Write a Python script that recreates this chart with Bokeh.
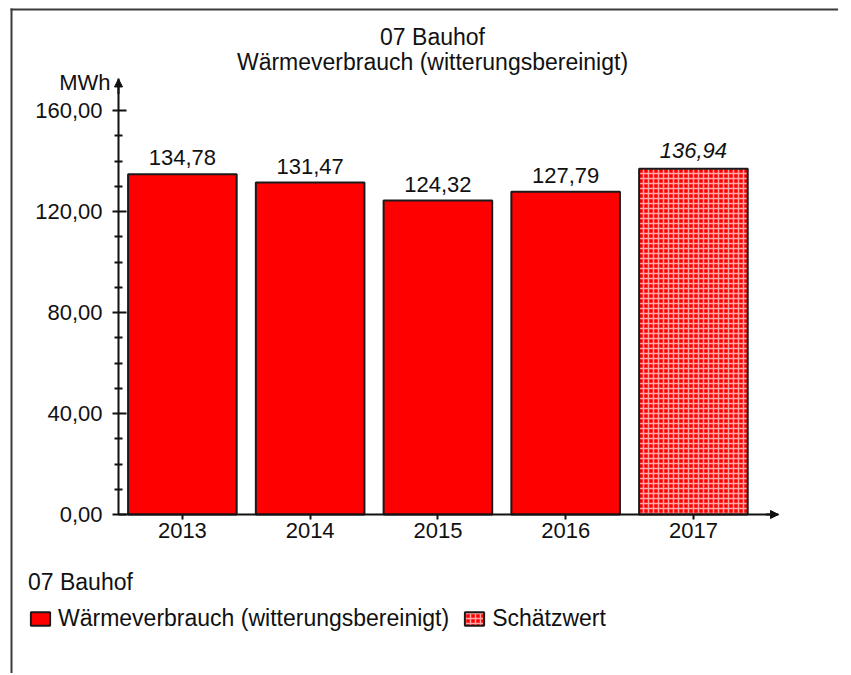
from bokeh.plotting import figure
from bokeh.models import (Range1d, FixedTicker, ColumnDataSource, Label, Arrow,
                          NormalHead, Legend, LegendItem)
from bokeh.transform import dodge
from bokeh.embed import file_html
from bokeh.resources import INLINE
from bokeh.core.properties import value

# ---------------- data ----------------
chart_title = "07 Bauhof"
chart_subtitle = "Wärmeverbrauch (witterungsbereinigt)"
unit_label = "MWh"
years = ["2013", "2014", "2015", "2016"]
values = [134.78, 131.47, 124.32, 127.79]
est_years = ["2017"]
est_values = [136.94]
y_ticks = [0, 40, 80, 120, 160]
y_minor_ticks = [10, 20, 30, 50, 60, 70, 90, 100, 110, 130, 140, 150]
legend_title = "07 Bauhof"
series_name = "Wärmeverbrauch (witterungsbereinigt)"
estimate_name = "Schätzwert"


def de(v):
    return f"{v:.2f}".replace(".", ",")


all_years = years + est_years
pos = {y: i + 1 for i, y in enumerate(all_years)}

src = ColumnDataSource(dict(x=[pos[y] for y in years], top=values,
                            lbl=[de(v) for v in values]))
src_est = ColumnDataSource(dict(x=[pos[y] for y in est_years], top=est_values,
                                lbl=[de(v) for v in est_values]))

FONT = "Liberation Sans"
FS = "22px"      # numbers
FS_T = "23px"    # titles / legend
INK = "#111111"

# ---------------- layout (pixel anchors) ----------------
W, H = 838, 673
X_END = 5.666          # x-axis arrow tip (data)
Y_END = 172.5          # y-axis arrow tip (data)
PX_X0, PX_X1 = 118, 778   # pixel of x=0.5 and x=X_END
PX_Y0, PX_Y160 = 514, 110  # pixel of y=0 and y=160
sxp = (PX_X1 - PX_X0) / (X_END - 0.5)
syp = (PX_Y0 - PX_Y160) / 160.0
x_start = 0.5 - PX_X0 / sxp
x_end = x_start + W / sxp
y_end = PX_Y0 / syp
y_start = y_end - H / syp


def dx(px):
    return x_start + px / sxp


def dy(py):
    return y_end - py / syp


p = figure(width=W, height=H, output_backend="svg", toolbar_location=None,
           x_range=Range1d(x_start, x_end), y_range=Range1d(y_start, y_end),
           min_border=0, min_border_left=0, min_border_right=0,
           min_border_top=0, min_border_bottom=0,
           background_fill_color="white", border_fill_color="white")
p.title.visible = False
p.outline_line_color = None
p.xgrid.visible = False
p.ygrid.visible = False

# outer frame lines (top and left)
p.segment(x0=[dx(10), dx(11)], y0=[dy(9), dy(8)], x1=[dx(838), dx(11)], y1=[dy(9), dy(H)],
          line_color="#3a3a3a", line_width=2)

# x axis
xa = p.xaxis[0]
xa.fixed_location = 0
xa.bounds = (0.5, X_END)
xa.ticker = FixedTicker(ticks=[pos[y] for y in all_years])
xa.major_label_overrides = {pos[y]: y for y in all_years}
xa.minor_tick_line_color = None
xa.major_tick_out = 5
xa.major_tick_in = 0
xa.axis_line_width = 2
xa.axis_line_color = INK
xa.major_tick_line_width = 2
xa.major_tick_line_color = INK
xa.major_label_text_font = FONT
xa.major_label_text_font_size = FS
xa.major_label_text_color = INK
xa.major_label_standoff = 3

# y axis
ya = p.yaxis[0]
ya.fixed_location = 0.5
ya.bounds = (0, Y_END)
ya.ticker = FixedTicker(ticks=y_ticks, minor_ticks=y_minor_ticks)
ya.major_label_overrides = {t: de(t) for t in y_ticks}
ya.major_tick_out = 6
ya.major_tick_in = 8
ya.minor_tick_out = 4
ya.minor_tick_in = 4
ya.axis_line_width = 2
ya.axis_line_color = INK
ya.major_tick_line_width = 2
ya.major_tick_line_color = INK
ya.minor_tick_line_width = 2
ya.minor_tick_line_color = INK
ya.major_label_text_font = FONT
ya.major_label_text_font_size = FS
ya.major_label_text_color = INK
ya.major_label_standoff = 10

# arrow heads
p.add_layout(Arrow(end=NormalHead(size=8, fill_color=INK, line_color=INK, line_width=1),
                   x_start=0.5, y_start=Y_END - 6, x_end=0.5, y_end=Y_END,
                   line_color=INK, line_width=2))
p.add_layout(Arrow(end=NormalHead(size=8, fill_color=INK, line_color=INK, line_width=1),
                   x_start=X_END - 0.1, y_start=0, x_end=X_END, y_end=0,
                   line_color=INK, line_width=2))

# bars
r1 = p.vbar(x="x", top="top", bottom=0, width=0.85, source=src,
            fill_color="#ff0000", line_color="#1a1a1a", line_width=2)
r2 = p.vbar(x="x", top="top", bottom=0, width=0.85, source=src_est,
            fill_color="#ff0000", line_color="#1a1a1a", line_width=2,
            hatch_pattern="+", hatch_color="white", hatch_scale=5,
            hatch_weight=1.5, hatch_alpha=0.65)

# value labels (centred ~16.5 px above bar top)
lift = 16.5 / syp
p.text(x="x", y=dodge("top", lift), text="lbl", source=src, text_align="center",
       text_baseline="middle", text_font=value(FONT),
       text_font_size=FS, text_color=INK)
p.text(x="x", y=dodge("top", lift + 1.5 / syp), text="lbl", source=src_est,
       text_align="center", text_baseline="middle", text_font=value(FONT),
       text_font_size=FS, text_color=INK, text_font_style="italic")

# titles and unit
p.add_layout(Label(x=dx(432), y=dy(36.5), text=chart_title, text_align="center",
                   text_baseline="middle", text_font=FONT, text_font_size=FS_T,
                   text_color=INK))
p.add_layout(Label(x=dx(432), y=dy(61), text=chart_subtitle, text_align="center",
                   text_baseline="middle", text_font=FONT, text_font_size=FS_T,
                   text_color=INK))
p.add_layout(Label(x=dx(110), y=dy(81.5), text=unit_label, text_align="right",
                   text_baseline="middle", text_font=FONT, text_font_size=FS,
                   text_color=INK))

# legend
legend = Legend(items=[LegendItem(label=series_name, renderers=[r1]),
                       LegendItem(label=estimate_name, renderers=[r2])],
                title=legend_title, orientation="horizontal",
                location=(28, H - 632),
                label_text_font=FONT, label_text_font_size=FS_T, label_text_color=INK,
                title_text_font=FONT, title_text_font_size=FS_T,
                title_text_font_style="normal", title_text_color=INK,
                glyph_width=24, glyph_height=17, label_standoff=6, spacing=13,
                padding=0, margin=0, border_line_color=None,
                background_fill_alpha=0, title_standoff=9, label_height=17)
p.add_layout(legend)

open("out.html", "w").write(file_html(p, INLINE))
